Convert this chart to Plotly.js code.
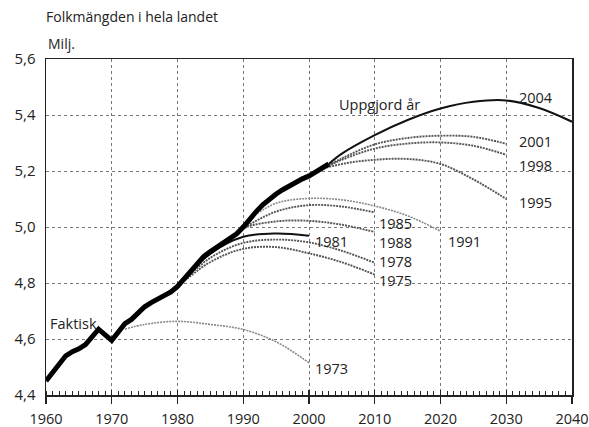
<!DOCTYPE html>
<html>
<head>
<meta charset="utf-8">
<script src="https://cdn.plot.ly/plotly-3.0.1.min.js"></script>
<style>html,body{margin:0;padding:0;background:#fff;}#chart{width:589px;height:427px;}</style>
</head>
<body>
<div id="chart"></div>
<script>
// Actual population (Faktisk), millions
const actualYears = [1960,1961,1962,1963,1964,1965,1966,1967,1968,1969,1970,1971,1972,1973,1974,1975,1976,1977,1978,1979,1980,1981,1982,1983,1984,1985,1986,1987,1988,1989,1990,1991,1992,1993,1994,1995,1996,1997,1998,1999,2000,2001,2002,2003];
const actualVals  = [4.45,4.48,4.51,4.54,4.555,4.565,4.58,4.61,4.635,4.615,4.595,4.625,4.655,4.67,4.695,4.715,4.73,4.742,4.755,4.768,4.788,4.815,4.845,4.87,4.895,4.912,4.928,4.942,4.957,4.976,5.0,5.03,5.056,5.08,5.1,5.118,5.133,5.147,5.16,5.172,5.182,5.195,5.207,5.225];

// Projections by year made (Uppgjord år)
const p1973Years = [1972,1975,1980,1985,1990,1995,2000];
const p1973Vals  = [4.635,4.652,4.663,4.652,4.634,4.59,4.515];
const p1975Years = [1975,1980,1985,1990,1995,2000,2005,2010];
const p1975Vals  = [4.715,4.79,4.875,4.922,4.928,4.906,4.874,4.83];
const p1978Years = [1978,1980,1985,1990,1995,2000,2005,2010];
const p1978Vals  = [4.755,4.79,4.89,4.943,4.955,4.945,4.915,4.872];
const p1981Years = [1981,1985,1990,1995,2000];
const p1981Vals  = [4.815,4.905,4.965,4.977,4.969];
const p1985Years = [1985,1990,1995,2000,2005,2010];
const p1985Vals  = [4.912,4.995,5.055,5.078,5.073,5.052];
const p1988Years = [1988,1990,1995,2000,2005,2010];
const p1988Vals  = [4.957,4.995,5.02,5.022,5.008,4.982];
const p1991Years = [1991,1995,2000,2005,2010,2015,2020];
const p1991Vals  = [5.03,5.085,5.102,5.097,5.075,5.04,4.985];
const p1995Years = [1995,2000,2005,2010,2015,2020,2025,2030];
const p1995Vals  = [5.118,5.19,5.225,5.24,5.243,5.225,5.17,5.10];
const p1998Years = [1998,2000,2005,2010,2015,2020,2025,2030];
const p1998Vals  = [5.16,5.185,5.24,5.28,5.298,5.302,5.29,5.258];
const p2001Years = [2001,2005,2010,2015,2020,2025,2030];
const p2001Vals  = [5.195,5.245,5.295,5.318,5.326,5.322,5.297];
const p2004Years = [2003,2005,2010,2015,2020,2025,2030,2035,2040];
const p2004Vals  = [5.225,5.262,5.328,5.382,5.423,5.447,5.452,5.425,5.376];

// Labels
const labelTexts = ["2004","2001","1998","1995","1985","1988","1978","1975","1981","1991","1973","Faktisk","Uppgjord år"];
const labelX     = [2031.6,2031.6,2031.6,2031.6,2010.3,2010.3,2010.3,2010.3,2000.6,2020.9,2000.6,1960.3,2004.2];
const labelY     = [5.464,5.304,5.221,5.089,5.014,4.943,4.878,4.81,4.95,4.95,4.493,4.657,5.436];

const xTicks = [1960,1970,1980,1990,2000,2010,2020,2030,2040];
const yTicks = [4.4,4.6,4.8,5.0,5.2,5.4,5.6];

const FONT = "Open Sans, Noto Sans, sans-serif";
const projDark = {color:'#555', width:1.9, dash:'2px,1px', shape:'spline'};
const projLight = {color:'#8a8a8a', width:1.6, dash:'2px,1px', shape:'spline'};
const solidBlack = {color:'#111', width:2, shape:'spline'};

function tr(x, y, line){ return {x:x, y:y, type:'scatter', mode:'lines', line:line, hoverinfo:'skip', showlegend:false}; }

const data = [
  tr(p1973Years,p1973Vals,projLight),
  tr(p1975Years,p1975Vals,projDark),
  tr(p1978Years,p1978Vals,projDark),
  tr(p1985Years,p1985Vals,projDark),
  tr(p1988Years,p1988Vals,projDark),
  tr(p1991Years,p1991Vals,projLight),
  tr(p1995Years,p1995Vals,projDark),
  tr(p1998Years,p1998Vals,projDark),
  tr(p2001Years,p2001Vals,projDark),
  tr(p1981Years,p1981Vals,solidBlack),
  tr(p2004Years,p2004Vals,solidBlack),
  tr(actualYears,actualVals,{color:'#000', width:5, shape:'linear'}),
  {x:[1960,2040], y:[4.4,4.4], xaxis:'x2', type:'scatter', mode:'lines', line:{width:0}, hoverinfo:'skip', showlegend:false}
];

const annotations = labelTexts.map((t,i)=>({
  x:labelX[i], y:labelY[i], xref:'x', yref:'y', text:t, showarrow:false,
  xanchor:'left', yanchor:'middle', font:{family:FONT, size:14.5, color:'#222'}
}));
annotations.push({xref:'paper', yref:'paper', x:0, y:1, yshift:4, xanchor:'left', yanchor:'bottom',
  text:'Milj.', showarrow:false, font:{family:FONT, size:14, color:'#222'}});

const layout = {
  width:589, height:427,
  margin:{l:46, r:17, t:59, b:32, pad:0},
  paper_bgcolor:'#fff', plot_bgcolor:'#fff',
  separators:',.',
  title:{text:'Folkmängden i hela landet', x:0, xref:'paper', xanchor:'left', y:1-12/427, yref:'container', yanchor:'top',
         font:{family:FONT, size:14, color:'#222'}},
  xaxis:{range:[1960,2040], tickvals:xTicks, ticks:'outside', ticklen:7, tickcolor:'#222', tickwidth:1.3,
         ticklabelstandoff:3,
         showgrid:true, gridcolor:'#777', griddash:'dot', gridwidth:1,
         showline:true, linecolor:'#222', linewidth:1.5, mirror:true, zeroline:false,
         tickfont:{family:FONT, size:14.5, color:'#222'},
         minor:{dtick:1, tick0:1960, ticks:'inside', ticklen:4, tickcolor:'#222', tickwidth:1, showgrid:false}},
  xaxis2:{range:[1960,2040], overlaying:'x', side:'bottom', anchor:'y', tickvals:xTicks, ticks:'inside', ticklen:5,
          tickcolor:'#222', tickwidth:1.3, showticklabels:false, showgrid:false, showline:false, zeroline:false},
  yaxis:{range:[4.4,5.6], tickvals:yTicks, tickformat:'.1f', ticks:'', ticklabelstandoff:6,
         showgrid:true, gridcolor:'#777', griddash:'dot', gridwidth:1,
         showline:true, linecolor:'#222', linewidth:1.5, mirror:true, zeroline:false,
         tickfont:{family:FONT, size:15, color:'#222'}},
  annotations:annotations,
  showlegend:false
};

Plotly.newPlot('chart', data, layout, {staticPlot:true, displayModeBar:false});
</script>
</body>
</html>
